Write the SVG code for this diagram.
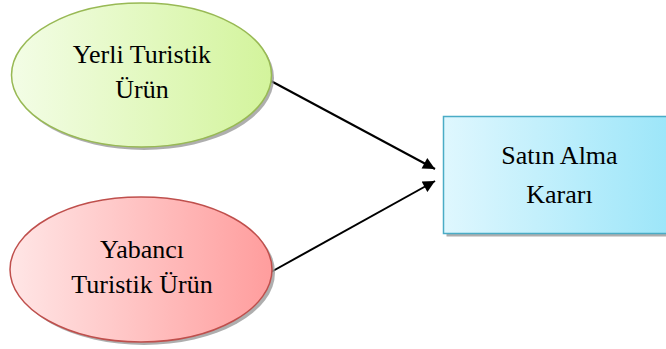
<svg xmlns="http://www.w3.org/2000/svg" width="666" height="349" viewBox="0 0 666 349">
<defs>
<linearGradient id="gGreen" x1="0" y1="0" x2="1" y2="0"><stop offset="0" stop-color="#f3fde6"/><stop offset="1" stop-color="#d3f49c"/></linearGradient>
<linearGradient id="gRed" x1="0" y1="0" x2="1" y2="0"><stop offset="0" stop-color="#ffe6e6"/><stop offset="1" stop-color="#ff9d9d"/></linearGradient>
<linearGradient id="gBlue" x1="0" y1="0" x2="1" y2="0"><stop offset="0" stop-color="#dff7fe"/><stop offset="1" stop-color="#9de6f9"/></linearGradient>
<marker id="arr" viewBox="0 0 10 10" refX="10" refY="5" markerWidth="7" markerHeight="6" orient="auto" markerUnits="strokeWidth"><path d="M0,0 L10,5 L0,10 Z" fill="#000"/></marker>
<style>
.shadow{fill:#9a9a9a;opacity:0.8}
.conn{stroke:#000;stroke-width:2;fill:none}
.t{font-family:"Liberation Serif","Times New Roman",Times,serif;font-size:26px;fill:#000;text-anchor:middle}
</style>
</defs>
<g id="connectors">
<line class="conn" x1="271" y1="81" x2="435" y2="169" marker-end="url(#arr)"/>
<line class="conn" x1="271" y1="272" x2="435" y2="181" marker-end="url(#arr)"/>
</g>
<g id="node-yerli">
<ellipse class="shadow" cx="144" cy="78" rx="130" ry="72"/>
<ellipse cx="141.5" cy="75" rx="130" ry="72" fill="url(#gGreen)" stroke="#98b954" stroke-width="1.5"/>
<text class="t" x="142" y="63">Yerli Turistik</text>
<text class="t" x="142" y="98">Ürün</text>
</g>
<g id="node-yabanci">
<ellipse class="shadow" cx="144" cy="272.5" rx="131" ry="72.5"/>
<ellipse cx="141" cy="269.5" rx="131" ry="72.5" fill="url(#gRed)" stroke="#bf4f4c" stroke-width="1.5"/>
<text class="t" x="142" y="258">Yabancı</text>
<text class="t" x="142" y="292.5">Turistik Ürün</text>
</g>
<g id="node-satin">
<rect class="shadow" x="446.5" y="119.5" width="224" height="117"/>
<rect x="443.5" y="116.5" width="224" height="117" fill="url(#gBlue)" stroke="#4aacc6" stroke-width="1.5"/>
<text class="t" x="559.5" y="164">Satın Alma</text>
<text class="t" x="559.5" y="202.5">Kararı</text>
</g>
</svg>
